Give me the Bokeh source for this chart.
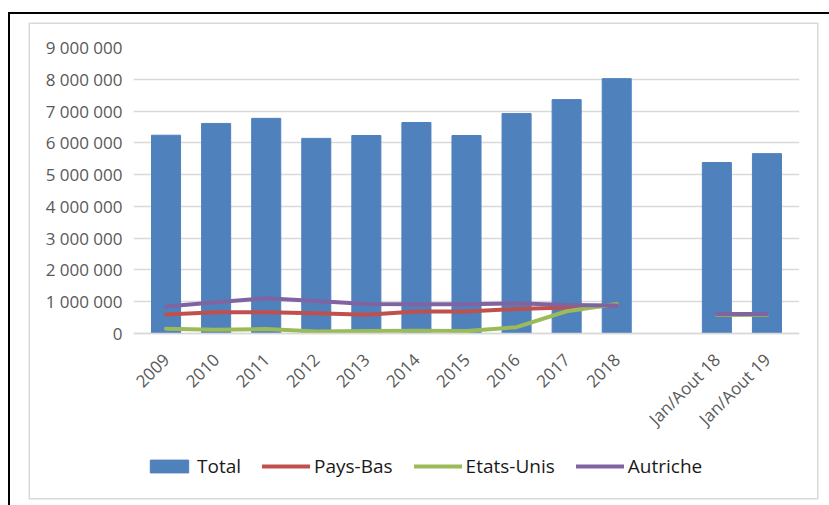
from bokeh.plotting import figure
from bokeh.models import (FactorRange, Range1d, FixedTicker, Legend, LegendItem,
                          ColumnDataSource, CategoricalAxis)
from bokeh.embed import file_html
from bokeh.resources import INLINE
import math

# ---- data ----
categories = ["2009", "2010", "2011", "2012", "2013", "2014", "2015", "2016",
              "2017", "2018", " ", "Jan/Aout 18", "Jan/Aout 19"]
periods_annual = ["2009", "2010", "2011", "2012", "2013", "2014", "2015", "2016", "2017", "2018"]
periods_partial = ["Jan/Aout 18", "Jan/Aout 19"]

total_annual = [6240000, 6610000, 6770000, 6140000, 6230000, 6640000, 6230000, 6920000, 7360000, 8020000]
total_partial = [5380000, 5660000]

paysbas_annual = [600000, 670000, 670000, 640000, 590000, 690000, 690000, 770000, 820000, 880000]
paysbas_partial = [600000, 600000]

etatsunis_annual = [150000, 120000, 140000, 60000, 80000, 90000, 80000, 200000, 700000, 930000]
etatsunis_partial = [590000, 590000]

autriche_annual = [850000, 980000, 1110000, 1020000, 930000, 920000, 920000, 950000, 900000, 880000]
autriche_partial = [610000, 610000]

y_ticks = [0, 1000000, 2000000, 3000000, 4000000, 5000000, 6000000, 7000000, 8000000, 9000000]
y_tick_labels = ["0", "1 000 000", "2 000 000", "3 000 000", "4 000 000", "5 000 000",
                 "6 000 000", "7 000 000", "8 000 000", "9 000 000"]

series_names = ["Total", "Pays-Bas", "Etats-Unis", "Autriche"]
colors = ["#4F81BD", "#C0504D", "#9BBB59", "#8064A2"]

FONT = "Open Sans"

# ---- layout ----
W, H = 787, 474
TOP = 23               # frame top (9 000 000 line)
ZERO_Y = 309           # pixel row of the 0 line inside the canvas
y_max = y_ticks[-1]
px_per_unit = (ZERO_Y - TOP) / y_max
y_min = -(H - ZERO_Y) / px_per_unit   # room below 0 for the labels and legend

shadow = ("0 0 0 1.5px #d9d9d9, "
          "20px 30px 0 40px white, "
          "18px 28px 0 40px black")

p = figure(width=W, height=H, output_backend="svg", toolbar_location=None,
           x_range=FactorRange(factors=categories, range_padding=0.15,
                               range_padding_units="absolute"),
           y_range=Range1d(y_min, y_max),
           x_axis_location=None,
           min_border_left=103, min_border_right=18, min_border_top=TOP, min_border_bottom=0,
           styles={"margin-left": "30px", "margin-top": "24px", "box-shadow": shadow})
p.outline_line_color = None
p.background_fill_color = "white"
p.border_fill_color = "white"

# bars
bar_src = ColumnDataSource(dict(x=periods_annual + periods_partial,
                                top=total_annual + total_partial))
r_total = p.vbar(x="x", top="top", bottom=0, width=0.58, source=bar_src,
                 fill_color=colors[0], line_color=colors[0])

# lines
line_renderers = []
for ann, part, c in [(paysbas_annual, paysbas_partial, colors[1]),
                     (etatsunis_annual, etatsunis_partial, colors[2]),
                     (autriche_annual, autriche_partial, colors[3])]:
    r1 = p.line(periods_annual, ann, line_color=c, line_width=4, line_cap="round", line_join="round")
    p.line(periods_partial, part, line_color=c, line_width=4, line_cap="round", line_join="round")
    line_renderers.append(r1)

# y axis
p.yaxis.ticker = FixedTicker(ticks=y_ticks)
p.yaxis.major_label_overrides = {t: l for t, l in zip(y_ticks, y_tick_labels)}
p.yaxis.axis_line_color = None
p.yaxis.major_tick_line_color = None
p.yaxis.minor_tick_line_color = None
p.yaxis.major_tick_out = 0
p.yaxis.major_tick_in = 0
p.yaxis.major_label_standoff = 11
p.yaxis.major_label_text_font = FONT
p.yaxis.major_label_text_font_size = "17px"
p.yaxis.major_label_text_color = "#595959"

# x axis, fixed on the 0 line
xax = CategoricalAxis(fixed_location=0)
xax.axis_line_color = "#d9d9d9"
xax.axis_line_width = 1.5
xax.major_tick_line_color = None
xax.minor_tick_line_color = None
xax.major_tick_out = 0
xax.major_tick_in = 0
xax.major_label_orientation = math.pi / 4
xax.major_label_standoff = 23
xax.major_label_text_font = FONT
xax.major_label_text_font_size = "17px"
xax.major_label_text_color = "#595959"
p.add_layout(xax, "below")

p.xgrid.grid_line_color = None
p.ygrid.grid_line_color = "#d9d9d9"
p.ygrid.grid_line_width = 1.5
p.ygrid.ticker = FixedTicker(ticks=y_ticks)

# legend inside the lower part of the frame
items = [LegendItem(label=series_names[0], renderers=[r_total])] + \
        [LegendItem(label=n, renderers=[r]) for n, r in zip(series_names[1:], line_renderers)]
lg = Legend(items=items, location=(12, 19), orientation="horizontal",
            glyph_width=48, glyph_height=16, label_standoff=4, spacing=21,
            padding=0, margin=0, border_line_color=None, background_fill_alpha=0,
            label_text_font=FONT, label_text_font_size="19px", label_text_color="#1a1a1a")
p.add_layout(lg, "center")

open("out.html", "w").write(file_html(p, INLINE))
